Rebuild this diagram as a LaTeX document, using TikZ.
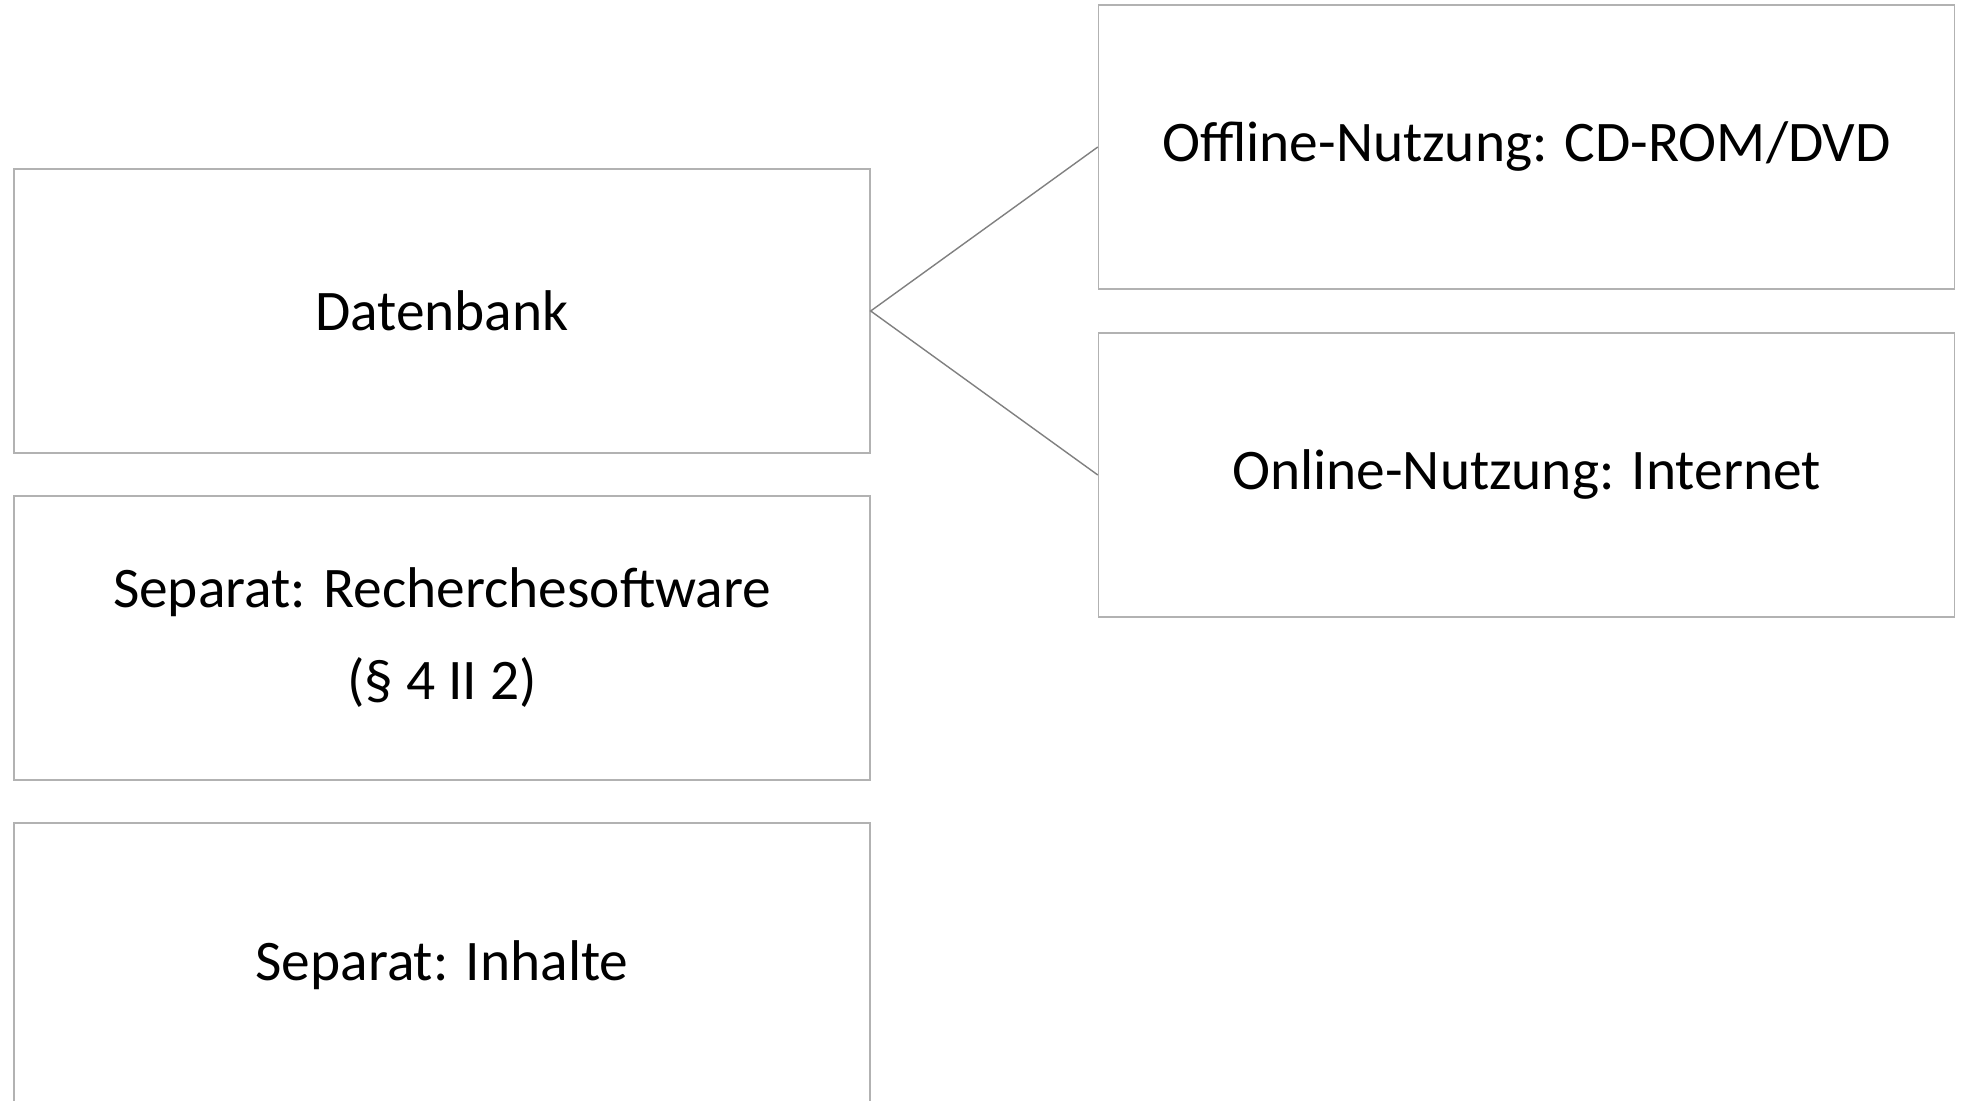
\documentclass[tikz,border=0pt]{standalone}
\usepackage{fontspec}
\setmainfont{Carlito}
\begin{document}
\begin{tikzpicture}[x=0.5pt,y=-0.5pt,
  box/.style={draw=boxgray,line width=0.7pt,fill=white,minimum width=428pt,minimum height=142pt,
    inner sep=0pt,align=center,font=\fontsize{28.7}{46}\selectfont},
  link/.style={draw=linkgray,line width=0.7pt}]
\definecolor{boxgray}{RGB}{178,178,178}
\definecolor{linkgray}{RGB}{128,128,128}
\clip (0,0) rectangle (1961,1101);
\fill[white] (0,0) rectangle (1961,1101);
\node[box] (db)  at (442,311)   {Datenbank};
\node[box] (rs)  at (442,638)   {Separat: Recherchesoftware\\(§ 4 II 2)};
\node[box] (inh) at (442,965)   {Separat: Inhalte};
\node[box] (off) at (1526.5,147) {Offline-Nutzung: CD-ROM/DVD};
\node[box] (on)  at (1526.5,475) {Online-Nutzung: Internet};
\draw[link] (off.west) -- (db.east) -- (on.west);
\end{tikzpicture}
\end{document}
